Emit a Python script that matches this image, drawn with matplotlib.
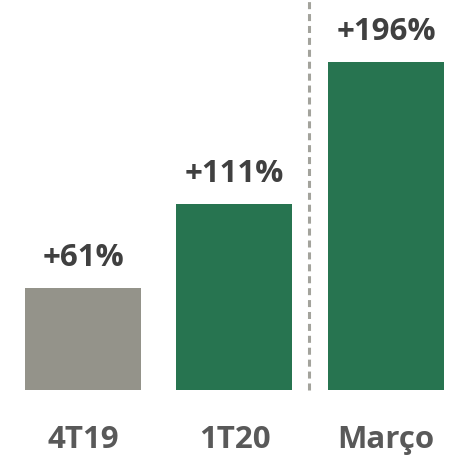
import matplotlib
matplotlib.use("Agg")
import matplotlib.pyplot as plt

categories = ["4T19", "1T20", "Março"]
values = [61, 111, 196]
labels = ["+61%", "+111%", "+196%"]
colors = ["#94938A", "#277450", "#277450"]

plt.rcParams['font.family'] = ['Open Sans', 'DejaVu Sans']

fig = plt.figure(figsize=(4.52, 4.59), dpi=100)
ax = fig.add_axes([0, 0.1503, 1, 0.8497])
x = list(range(len(categories)))
ax.bar(x, values, width=0.766, color=colors)
ax.set_xlim(-0.548, 2.436)
ax.set_ylim(0, 233.1)
ax.axis('off')

ax.plot([1.492, 1.492], [0, 233.1], color="#A3A39C", lw=2.2,
        linestyle=(0, (2.3, 1.6)), clip_on=False)

for xi, v, lab in zip(x, values, labels):
    ax.annotate(lab, (xi, v), xytext=(0, 16), textcoords='offset points',
                ha='center', va='baseline', fontsize=22.5, fontweight='bold',
                color='#404040')
for xi, c in zip(x, categories):
    ax.annotate(c, (xi, 0), xytext=(0, -41.8), textcoords='offset points',
                ha='center', va='baseline', fontsize=22.5, fontweight='bold',
                color='#595959', annotation_clip=False)

fig.savefig("out.png", dpi=100)
